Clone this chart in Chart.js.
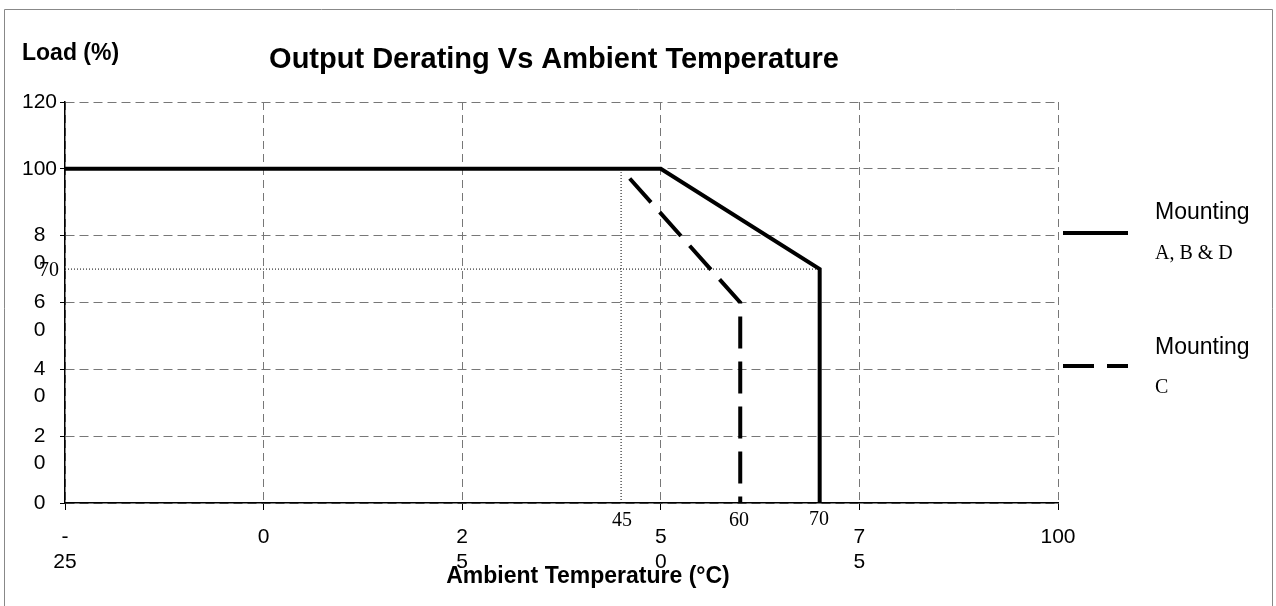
<!DOCTYPE html>
<html>
<head>
<meta charset="utf-8">
<title>Output Derating Vs Ambient Temperature</title>
<script src="https://cdn.jsdelivr.net/npm/chart.js@4.4.0/dist/chart.umd.min.js"></script>
<style>
  html, body { margin: 0; padding: 0; background: #fff; }
  .chart { position: relative; width: 1276px; height: 606px; }
</style>
</head>
<body>
<div class="chart"><canvas id="derating"></canvas></div>
<script>
  // axis ticks and their (oddly wrapped) labels
  const xTicks = [-25, 0, 25, 50, 75, 100];
  const xTickLabels = [['-', '25'], ['0'], ['2', '5'], ['5', '0'], ['7', '5'], ['100']];
  const yTicks = [0, 20, 40, 60, 80, 100, 120];
  const yTickLabels = ['0', ['', '2', '0'], ['', '4', '0'], ['', '6', '0'], ['', '8', '0'], '100', '120'];

  // Mounting A, B & D
  const solidTemp = [-25, 50, 70, 70];
  const solidLoad = [100, 100, 70, 0];
  // Mounting C
  const dashTemp = [45, 60, 60];
  const dashLoad = [100, 60, 0];
  // dotted guide lines
  const guide45Temp = [45, 45];
  const guide45Load = [0, 99];
  const guide70Temp = [-25, 70];
  const guide70Load = [70, 70];

  const sans = '"Liberation Sans", Arial, sans-serif';
  const serif = '"Liberation Serif", "Times New Roman", serif';

  const toPoints = (xs, ys) => xs.map((x, i) => ({ x: x, y: ys[i] }));

  const textPlugin = {
    id: 'texts',
    afterDraw(chart) {
      const ctx = chart.ctx;
      ctx.save();
      ctx.fillStyle = '#000';

      // frame
      ctx.strokeStyle = '#888';
      ctx.lineWidth = 1;
      ctx.beginPath();
      ctx.moveTo(4.5, 607);
      ctx.lineTo(4.5, 9.5);
      ctx.lineTo(1272.5, 9.5);
      ctx.lineTo(1272.5, 607);
      ctx.stroke();

      ctx.textBaseline = 'middle';
      ctx.textAlign = 'center';
      ctx.font = 'bold 29px ' + sans;
      ctx.fillText('Output Derating Vs Ambient Temperature', 554, 60);

      ctx.textAlign = 'left';
      ctx.font = 'bold 23px ' + sans;
      ctx.fillText('Load (%)', 22, 54);

      ctx.textAlign = 'center';
      ctx.fillText('Ambient Temperature (°C)', 588, 577);

      // value marks
      ctx.font = '20px ' + serif;
      ctx.fillText('45', 622, 521);
      ctx.fillText('60', 739, 521);
      ctx.fillText('70', 819, 520);
      ctx.textAlign = 'right';
      ctx.fillText('70', 59, 271);

      // legend
      ctx.strokeStyle = '#000';
      ctx.lineWidth = 4;
      ctx.beginPath();
      ctx.moveTo(1063, 233);
      ctx.lineTo(1128, 233);
      ctx.stroke();
      ctx.setLineDash([31, 13]);
      ctx.beginPath();
      ctx.moveTo(1063, 366);
      ctx.lineTo(1128, 366);
      ctx.stroke();
      ctx.setLineDash([]);

      ctx.textAlign = 'left';
      ctx.font = '23px ' + sans;
      ctx.fillText('Mounting', 1155, 213);
      ctx.fillText('Mounting', 1155, 348);
      ctx.font = '20px ' + serif;
      ctx.fillText('A, B & D', 1155, 254);
      ctx.fillText('C', 1155, 388);
      ctx.restore();
    }
  };

  new Chart(document.getElementById('derating'), {
    type: 'line',
    data: {
      datasets: [
        {
          label: 'Mounting A, B & D',
          data: toPoints(solidTemp, solidLoad),
          borderColor: '#000',
          borderWidth: 4,
          borderJoinStyle: 'miter',
          pointRadius: 0,
          order: 1,
        },
        {
          label: 'Mounting C',
          data: toPoints(dashTemp, dashLoad),
          borderColor: '#000',
          borderWidth: 4,
          borderDash: [32, 13],
          borderDashOffset: -13,
          pointRadius: 0,
          order: 2,
        },
        {
          label: '45',
          data: toPoints(guide45Temp, guide45Load),
          borderColor: '#000',
          borderWidth: 1,
          borderDash: [1, 2],
          pointRadius: 0,
          order: 3,
        },
        {
          label: '70',
          data: toPoints(guide70Temp, guide70Load),
          borderColor: '#000',
          borderWidth: 1,
          borderDash: [1, 2],
          pointRadius: 0,
          order: 3,
        },
      ],
    },
    options: {
      responsive: true,
      maintainAspectRatio: false,
      animation: false,
      layout: { padding: { top: 102, right: 218, left: 0, bottom: 0 } },
      plugins: {
        legend: { display: false },
        tooltip: { enabled: false },
      },
      scales: {
        x: {
          type: 'linear',
          min: -25,
          max: 100,
          afterBuildTicks: (s) => { s.ticks = xTicks.map((v) => ({ value: v })); },
          afterFit: (s) => { s.height = 103; },
          grid: { color: '#777', lineWidth: 1, tickLength: 7, tickColor: '#000', tickWidth: 1 },
          border: { color: '#000', width: 1.5, dash: [8, 5] },
          ticks: {
            color: '#000',
            padding: 14,
            autoSkip: false,
            maxRotation: 0,
            font: { family: sans, size: 21, lineHeight: 1.22 },
            callback: (v) => xTickLabels[xTicks.indexOf(v)],
          },
        },
        y: {
          min: 0,
          max: 120,
          afterBuildTicks: (s) => { s.ticks = yTicks.map((v) => ({ value: v })); },
          afterFit: (s) => { s.width = 65; },
          grid: { color: '#777', lineWidth: 1, tickLength: 5, tickColor: '#000', tickWidth: 1 },
          border: { color: '#000', width: 1.5, dash: [9, 5] },
          ticks: {
            color: '#000',
            padding: 3,
            autoSkip: false,
            crossAlign: 'center',
            font: { family: sans, size: 21, lineHeight: 1.3 },
            callback: (v) => yTickLabels[yTicks.indexOf(v)],
          },
        },
      },
    },
    plugins: [textPlugin],
  });
</script>
</body>
</html>
